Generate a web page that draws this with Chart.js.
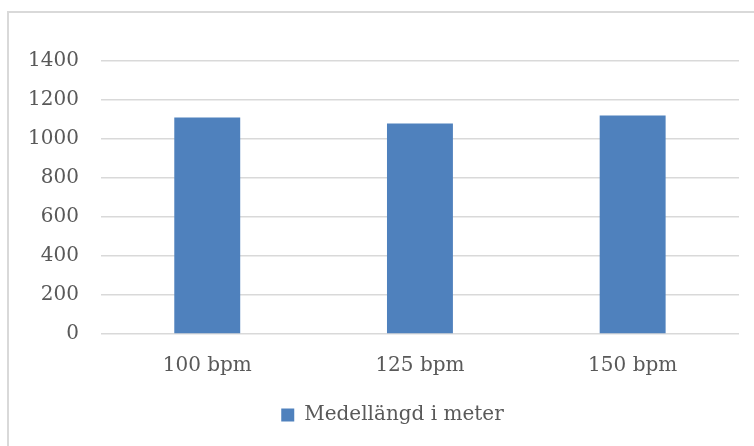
<!DOCTYPE html>
<html lang="sv">
<head>
  <meta charset="UTF-8" />
  <title>Medellängd i meter</title>
  <script src="https://cdn.jsdelivr.net/npm/chart.js"></script>
  <style>
    body {
      margin: 0;
      background: #fff;
      width: 754px;
      height: 446px;
      overflow: hidden;
      position: relative;
    }
    #ram {
      position: absolute;
      left: 7px;
      top: 11px;
      width: 800px;
      height: 500px;
      border: 2px solid #d9d9d9;
    }
    #wrap {
      position: absolute;
      left: 0;
      top: 0;
      width: 754px;
      height: 446px;
    }
  </style>
</head>
<body>
  <div id="ram"></div>
  <div id="wrap"><canvas id="grafico"></canvas></div>

  <script>
    const kategorier = ['100 bpm', '125 bpm', '150 bpm'];
    const medellangd = [1110, 1080, 1120];
    const serieNamn = 'Medellängd i meter';

    const textFarg = '#595959';
    const font = { family: "'DejaVu Serif', serif", size: 20 };

    // flyttar förklaringen lite åt höger, som i originalet
    const flyttaLegend = {
      id: 'flyttaLegend',
      afterLayout(chart) {
        chart.legend.left += 20;
        chart.legend.right += 20;
      }
    };

    const config = {
      type: 'bar',
      data: {
        labels: kategorier,
        datasets: [{
          label: serieNamn,
          data: medellangd,
          backgroundColor: '#4f81bd',
          borderWidth: 0,
          categoryPercentage: 1,
          barPercentage: 0.31
        }]
      },
      options: {
        responsive: true,
        maintainAspectRatio: false,
        animation: false,
        layout: {
          padding: { left: 6, right: 15, top: 61, bottom: 11 }
        },
        plugins: {
          legend: {
            position: 'bottom',
            labels: {
              color: textFarg,
              font: font,
              boxWidth: 13,
              boxHeight: 13,
              padding: 15
            }
          },
          tooltip: { enabled: false }
        },
        scales: {
          x: {
            grid: { display: false },
            border: { display: false },
            ticks: { color: textFarg, font: font, padding: 12 }
          },
          y: {
            min: 0,
            max: 1400,
            ticks: {
              stepSize: 200,
              color: textFarg,
              font: font,
              padding: 22,
              callback: v => String(v)
            },
            grid: { color: '#d9d9d9', lineWidth: 1.5, drawTicks: false },
            border: { display: false }
          }
        }
      },
      plugins: [flyttaLegend]
    };

    new Chart(document.getElementById('grafico').getContext('2d'), config);
  </script>
</body>
</html>
